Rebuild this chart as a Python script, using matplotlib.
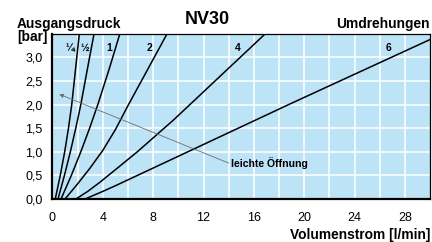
import matplotlib
matplotlib.use("Agg")
import matplotlib.pyplot as plt

plt.rcParams['font.family'] = ['Liberation Sans', 'DejaVu Sans']

# Volumenstrom [l/min] / Ausgangsdruck [bar] je Umdrehungen
q_quarter = [0.22, 0.62, 0.97, 1.27, 1.53, 1.83, 2.13]
p_quarter = [0.0, 0.5, 1.0, 1.5, 2.0, 2.75, 3.5]

q_half = [0.44, 0.95, 1.42, 1.85, 2.25, 2.77, 3.3]
p_half = [0.0, 0.5, 1.0, 1.5, 2.0, 2.75, 3.5]

q_one = [0.68, 1.5, 2.25, 2.95, 3.6, 4.5, 5.35]
p_one = [0.0, 0.5, 1.0, 1.5, 2.0, 2.75, 3.5]

q_two = [1.0, 2.0, 3.0, 4.0, 5.0, 6.04, 7.0, 9.1]
p_two = [0.0, 0.32, 0.66, 1.03, 1.47, 2.0, 2.47, 3.5]

q_four = [1.87, 2.8, 3.8, 5.0, 6.7, 9.6, 16.9]
p_four = [0.0, 0.16, 0.36, 0.62, 0.99, 1.67, 3.5]

q_six = [2.6, 4.0, 5.0, 7.0, 19.0, 30.0]
p_six = [0.0, 0.16, 0.28, 0.53, 2.03, 3.38]

kurven = [(q_quarter, p_quarter), (q_half, p_half), (q_one, p_one),
          (q_two, p_two), (q_four, p_four), (q_six, p_six)]

labels = ['¼', '½', '1', '2', '4', '6']
label_x = [1.4, 2.55, 4.5, 7.7, 14.7, 26.7]

x_ticks = [0, 4, 8, 12, 16, 20, 24, 28]
y_ticks = [0.0, 0.5, 1.0, 1.5, 2.0, 2.5, 3.0]

fig = plt.figure(figsize=(4.32, 2.42), dpi=100)
ax = fig.add_axes([0.1215, 0.178, 0.874, 0.682])
ax.set_facecolor('#bde3f7')

ax.set_xlim(0, 30)
ax.set_ylim(0, 3.5)

# weisses Raster
for gx in range(2, 30, 2):
    ax.axvline(gx, color='white', lw=1.1, zorder=1)
for gy in [0.5, 1.0, 1.5, 2.0, 2.5, 3.0]:
    ax.axhline(gy, color='white', lw=1.1, zorder=1)

for q, p in kurven:
    ax.plot(q, p, color='black', lw=1.1, zorder=3, solid_joinstyle='round')

for lab, lx in zip(labels, label_x):
    ax.text(lx, 3.2, lab, fontsize=7.5, fontweight='bold', ha='center', va='center', zorder=4)

# Pfeil "leichte Öffnung"
ax.annotate('', xy=(0.54, 2.22), xytext=(14.0, 0.76),
            arrowprops=dict(arrowstyle='-|>', color='#6e6e6e', lw=0.6,
                            mutation_scale=6, shrinkA=0, shrinkB=0), zorder=4)
ax.text(14.2, 0.76, 'leichte Öffnung', fontsize=7.6, fontweight='bold',
        ha='left', va='center', zorder=4)

ax.set_xticks(x_ticks)
ax.set_xticklabels([str(v) for v in x_ticks])
ax.set_yticks(y_ticks)
ax.set_yticklabels([('%.1f' % v).replace('.', ',') for v in y_ticks])
ax.tick_params(length=0, labelsize=9)
ax.tick_params(axis='x', pad=9.5)
ax.tick_params(axis='y', pad=7)

for side in ['top', 'right']:
    ax.spines[side].set_linewidth(0.9)
for side in ['left', 'bottom']:
    ax.spines[side].set_linewidth(1.6)
for s in ax.spines.values():
    s.set_zorder(5)

fig.text(207 / 432, 1 - 20 / 242, 'NV30', fontsize=13, fontweight='bold',
         ha='center', va='center')
fig.text(17 / 432, 1 - 24 / 242, 'Ausgangsdruck', fontsize=9.9, fontweight='bold',
         ha='left', va='center')
fig.text(17 / 432, 1 - 37.5 / 242, '[bar]', fontsize=9.9, fontweight='bold',
         ha='left', va='center')
fig.text(430 / 432, 1 - 24 / 242, 'Umdrehungen', fontsize=9.9, fontweight='bold',
         ha='right', va='center')
fig.text(430 / 432, 1 - 234.5 / 242, 'Volumenstrom [l/min]', fontsize=9.9,
         fontweight='bold', ha='right', va='center')

fig.savefig('out.png', dpi=100)
